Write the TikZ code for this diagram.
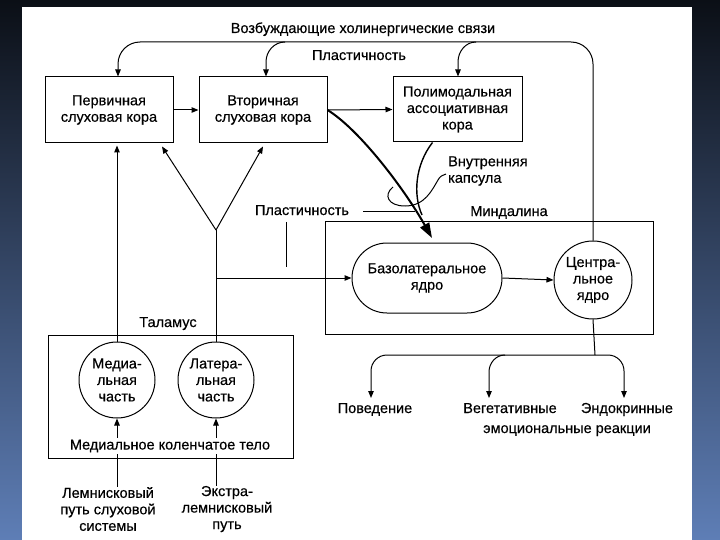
\documentclass[tikz,border=0pt]{standalone}
\usepackage{fontspec}
\setmainfont{Liberation Sans}[FakeBold=0.4]
\usetikzlibrary{arrows.meta,calc}
\definecolor{bgtop}{HTML}{0B0F16}
\definecolor{bgbot}{HTML}{5E7EB6}
\begin{document}
\begin{tikzpicture}[x=1pt,y=-1pt,
  every node/.style={font=\fontsize{14.5}{16.5}\selectfont, inner sep=0pt, align=center},
  lab/.style={anchor=base},
  box/.style={draw, line width=1pt, minimum width=128pt, minimum height=66pt},
  nuc/.style={draw, circle, line width=1pt, minimum size=76pt},
  ln/.style={line width=1pt},
  arr/.style={ln, -{Triangle[length=7pt,width=5.5pt]}}]
\useasboundingbox (0,0) rectangle (720,540);
\fill[top color=bgtop, bottom color=bgbot] (0,0) rectangle (720,540);
\fill[white] (22,7) rectangle (692,540);

% cortex boxes
\node[box] (prim) at (109,110) {Первичная\\слуховая кора};
\node[box] (sec) at (263,110) {Вторичная\\слуховая кора};
\node[box, minimum width=129pt, minimum height=65pt] (poly) at (457.5,109.5) {Полимодальная\\ассоциативная\\кора};
\draw[arr] (prim.east) -- (sec.west);
\draw[arr] (sec.east) -- (poly.west);

\node[lab] (chol) at (363,33) {Возбуждающие холинергические связи};
\node[lab] (plast1) at (359,60) {Пластичность};

% amygdala
\node[draw, ln, minimum width=328pt, minimum height=112pt] (amyg) at (489,278) {};
\node[lab] (amyglbl) at (509,216) {Миндалина};
\node[draw, ln, rounded corners=35pt, minimum width=150pt, minimum height=70pt] (baso) at (427,278) {Базолатеральное\\ядро};
\node[nuc, minimum size=78pt] (cent) at (593,280) {Центра-\\льное\\ядро};
\draw[arr] (baso.east) -- (cent.west);

% cholinergic loop
\draw[arr, rounded corners=22pt] (cent.north) -- (593,42) -- (118,42) -- ($(prim.north)+(9,0)$);
\draw[arr] (285,42) to[out=180,in=90] (266,62) -- ($(sec.north)+(3,0)$);
\draw[arr] (476,42) to[out=180,in=90] (458,62) -- ($(poly.north)+(0.5,0)$);

% outputs
\node[lab] (beh) at (375,413) {Поведение};
\node[lab] (veg) at (510,413) {Вегетативные};
\node[lab] (endo) at (627,413) {Эндокринные};
\node[lab] (emo) at (567,433) {эмоциональные реакции};
\coordinate (split) at (595,355);
\coordinate (b1) at (371,398);
\coordinate (b2) at (489,398);
\coordinate (b3) at (624,398);
\draw[ln] (cent.south) -- (split);
\draw[arr, rounded corners=16pt] (split) -| (b1);
\draw[arr, rounded corners=16pt] (split) -| (b3);
\draw[arr] (505,355) to[out=180,in=90] (b2 |- 0,372) -- (b2);

% thalamus
\node[draw, ln, minimum width=245pt, minimum height=123pt] (thal) at (170.5,396.5) {};
\node[lab] (thallbl) at (168,327) {Таламус};
\node[nuc] (med) at (117,380) {Медиа-\\льная\\часть};
\node[nuc] (lat) at (216,380) {Латера-\\льная\\часть};
\node (lem) at (108,509) {Лемнисковый\\путь слуховой\\системы};
\node (extra) at (227,509) {Экстра-\\лемнисковый\\путь};
\draw[arr] (med.south |- lem.north) -- (med.south);
\draw[arr] (lat.south |- extra.north) -- (lat.south);
\node[fill=white, inner sep=1.5pt] (mgb) at (170,446) {Медиальное коленчатое тело};

% ascending projections
\coordinate (yj) at (216,230);
\draw[ln] (lat.north) -- (yj);
\draw[arr] (yj) -- ($(prim.south)+(53,3)$);
\draw[arr] (yj) -- ($(sec.south)+(0,3)$);
\draw[arr] (med.north) -- ($(prim.south)+(8,2)$);
\draw[arr] (lat.north |- baso.west) -- (baso.west);

% plasticity marks
\node[lab] (plast2) at (302,215) {Пластичность};
\draw[ln] (286,222) -- (286,267);
\draw[ln] (363,212) -- (415,212);

% cortical input to amygdala through internal capsule
\coordinate (tip) at (432,238);
\draw[line width=2pt, -{Triangle[length=15pt,width=10pt]}] (sec.east) .. controls (360,130) and (405,190) .. (tip);
\draw[line width=1.4pt] ($(poly.south)+(-25,0)$) .. controls (415,165) and (413,195) .. (422,215);
\draw[ln] (393,187) .. controls (383,195) and (388,206) .. (405,206) .. controls (425,206) and (432,190) .. (438,180) .. controls (440,176) and (443,175) .. (446,174);
\node[anchor=west, align=left] (caps) at (448,171) {Внутренняя\\капсула};
\end{tikzpicture}
\end{document}
